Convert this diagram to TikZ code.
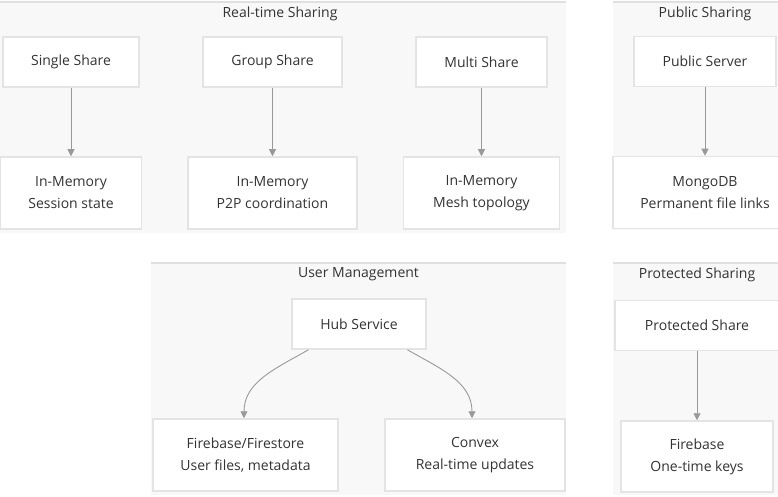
\documentclass[tikz,border=0pt]{standalone}
\usepackage{fontspec}
\setmainfont{Open Sans}
\usepackage{xcolor}
\usetikzlibrary{arrows.meta, positioning}
\definecolor{panelgray}{HTML}{F8F8F8}
\definecolor{panelline}{HTML}{E0E0E0}
\definecolor{boxline}{HTML}{E4E4E4}
\definecolor{textgray}{HTML}{333333}
\definecolor{arrowgray}{HTML}{999999}
\tikzstyle{container} = [fill=panelgray, rectangle, inner sep=0pt]
\tikzstyle{edge} = [draw=panelline, line width=1.5pt]
\tikzstyle{grouptitle} = [text=textgray, font=\fontsize{14}{16}\selectfont, inner sep=2pt]
\tikzstyle{service} = [draw=boxline, line width=1.5pt, fill=white, rectangle, minimum height=50pt, text=textgray, font=\fontsize{14}{22}\selectfont, align=center]
\tikzstyle{store} = [service, minimum height=72pt]
\tikzstyle{arrow} = [draw=arrowgray, -{Triangle[width=7pt,length=7pt]}, line width=0.9pt]

\begin{document}
\begin{tikzpicture}[x=1pt, y=-1pt, node distance=131pt]
    \useasboundingbox (0,0) rectangle (778,497);

    % Groups
    \node (realtime) [container, minimum width=572pt, minimum height=231pt] at (280,117.5) {};
    \node (public) [container, minimum width=184pt, minimum height=228pt] at (705,116) {};
    \node (usermgmt) [container, minimum width=415pt, minimum height=232pt] at (358.5,379) {};
    \node (protected) [container, minimum width=168pt, minimum height=232pt] at (697,379) {};
    \draw [edge] (realtime.north west) -- (realtime.north east);
    \draw [edge] (public.north west) -- (public.north east);
    \draw [edge] (usermgmt.north west) -- (usermgmt.north east);
    \draw [edge] (protected.north west) -- (protected.north east);

    \node (realtimetitle) [grouptitle, below=3pt of realtime.north] {Real-time Sharing};
    \node (publictitle) [grouptitle, below=3pt of public.north] {Public Sharing};
    \node (usermgmttitle) [grouptitle, below=3pt of usermgmt.north] {User Management};
    \node (protectedtitle) [grouptitle, below=3pt of protected.north] {Protected Sharing};

    % Real-time Sharing
    \node (single) [service, minimum width=136pt] at (71,62) {Single Share};
    \node (singlemem) [store, below of=single, minimum width=141pt] {In-Memory\\Session state};
    \node (group) [service, minimum width=139pt] at (272.5,62) {Group Share};
    \node (groupmem) [store, below of=group, minimum width=169pt] {In-Memory\\P2P coordination};
    \node (multi) [service, minimum width=131pt] at (481.5,62) {Multi Share};
    \node (multimem) [store, below of=multi, minimum width=156pt] {In-Memory\\Mesh topology};

    % Public Sharing
    \node (server) [service, minimum width=142pt] at (705,61.5) {Public Server};
    \node (mongo) [store, below of=server, minimum width=184pt] {MongoDB\\Permanent file links};

    % User Management
    \node (hub) [service, minimum width=134pt] at (359,324) {Hub Service};
    \node (firestore) [store, below of=hub, xshift=-113.5pt, minimum width=185pt] {Firebase/Firestore\\User files, metadata};
    \node (convex) [store, below of=hub, xshift=116pt, minimum width=180pt] {Convex\\Real-time updates};

    % Protected Sharing
    \node (protshare) [service, minimum width=164pt] at (697,325.5) {Protected Share};
    \node (keys) [store, below of=protshare, minimum width=152pt, minimum height=71pt] {Firebase\\One-time keys};

    % Connections
    \draw [arrow] (single) -- (singlemem);
    \draw [arrow] (group) -- (groupmem);
    \draw [arrow] (multi) -- (multimem);
    \draw [arrow] (server) -- (mongo);
    \draw [arrow] (hub.207.5) to[out=-150, in=90] ([xshift=-1.5pt]firestore.north);
    \draw [arrow] (hub.332.5) to[out=-30, in=90] ([xshift=-3pt]convex.north);
    \draw [arrow] (protshare) -- (keys);
\end{tikzpicture}
\end{document}
